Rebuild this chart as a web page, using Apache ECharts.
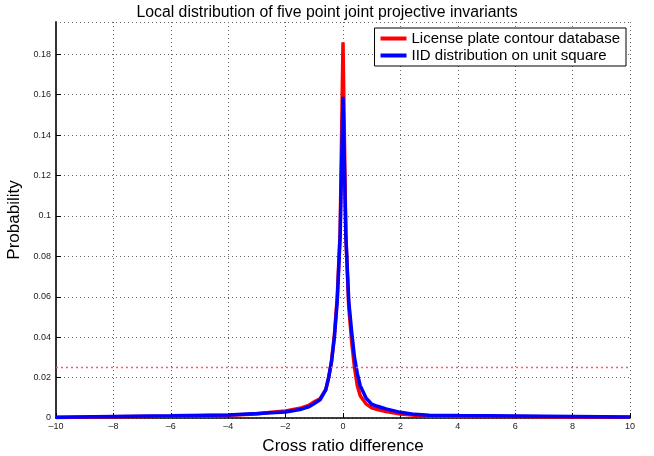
<!DOCTYPE html>
<html><head><meta charset="utf-8">
<script src="https://cdn.jsdelivr.net/npm/echarts@6/dist/echarts.min.js"></script>
<style>html,body{margin:0;padding:0;background:#fff}#c{width:654px;height:456px}</style>
</head><body><div id="c"></div>
<script>
const xTicks = [-10,-8,-6,-4,-2,0,2,4,6,8,10];
const yTicks = [0,0.02,0.04,0.06,0.08,0.1,0.12,0.14,0.16,0.18];
const xVals = [-10,-8,-6,-4,-3,-2.5,-2,-1.5,-1.2,-1.0,-0.8,-0.6,-0.5,-0.4,-0.3,-0.2,-0.1,0,0.1,0.2,0.3,0.4,0.5,0.6,0.8,1.0,1.2,1.5,2,2.5,3,4,6,8,10];
const licensePlate = [0.0003,0.0006,0.0009,0.0014,0.002,0.0028,0.0035,0.0048,0.0062,0.008,0.0095,0.014,0.02,0.028,0.041,0.06,0.092,0.186,0.09,0.055,0.038,0.025,0.016,0.011,0.007,0.005,0.0042,0.0032,0.002,0.0013,0.001,0.0008,0.0007,0.0005,0.0004];
const iidSquare = [0.0004,0.0008,0.0011,0.0015,0.0022,0.0026,0.003,0.0042,0.0055,0.0072,0.009,0.014,0.02,0.028,0.04,0.058,0.09,0.159,0.09,0.058,0.043,0.03,0.022,0.016,0.01,0.0068,0.0058,0.0045,0.0028,0.0018,0.0014,0.0012,0.001,0.0008,0.0005];
const thresholdX = [-10, 10];
const thresholdY = [0.025, 0.025];
const seriesNames = ['License plate contour database','IID distribution on unit square'];

const F = 'Liberation Sans, Arial, Helvetica, sans-serif';
const chart = echarts.init(document.getElementById('c'), null, {renderer:'canvas'});
const pair = (xs, ys) => xs.map((x,i)=>[x, ys[i]]);
chart.setOption({
  animation:false,
  title:{text:'Local distribution of five point joint projective invariants', left:'center', top:0,
    textStyle:{fontFamily:F, fontSize:15.8, fontWeight:'normal', color:'#000'}},
  grid:{left:56, right:24, top:22, bottom:38, outerBoundsMode:'none', containLabel:false},
  legend:{right:28, top:28, orient:'vertical', backgroundColor:'#fff', borderColor:'#000', borderWidth:1,
    padding:[3,6,3,6], itemGap:2, itemWidth:26, itemHeight:4, icon:'rect',
    textStyle:{fontFamily:F, fontSize:15, color:'#000', padding:[0,0,0,0]}, data:seriesNames},
  xAxis:{type:'value', min:-10, max:10, interval:2,
    name:'Cross ratio difference', nameLocation:'middle', nameGap:20,
    nameTextStyle:{fontFamily:F, fontSize:17, color:'#000'},
    axisLine:{onZero:false, lineStyle:{color:'#000', width:1.5}},
    axisTick:{inside:true, length:5, lineStyle:{color:'#000'}},
    axisLabel:{fontFamily:F, fontSize:9, color:'#222', margin:4, formatter:v=>xTicks.includes(v)?String(v).replace('-','\u2013'):''},
    splitLine:{show:true, lineStyle:{color:'#666', type:[1,3], width:1}}},
  yAxis:{type:'value', min:0, max:0.196, interval:0.02,
    name:'Probability', nameLocation:'middle', nameGap:28, nameRotate:90,
    nameTextStyle:{fontFamily:F, fontSize:17, color:'#000'},
    axisLine:{show:true, onZero:false, lineStyle:{color:'#333', width:2}},
    axisTick:{inside:true, length:5, lineStyle:{color:'#000'}},
    axisLabel:{fontFamily:F, fontSize:9, color:'#222', margin:5, showMaxLabel:false,
      formatter:v=>{const t=yTicks.find(a=>Math.abs(a-v)<1e-9); return t===undefined?'':String(+t.toFixed(2));}},
    splitLine:{show:true, lineStyle:{color:'#666', type:[1,3], width:1}}},
  series:[
    {name:'threshold', type:'line', data:pair(thresholdX, thresholdY), showSymbol:false, symbol:'none', silent:true,
      color:'#ff5a5a', itemStyle:{color:'#ff5a5a'},
      lineStyle:{color:'#ff5a5a', type:[2,3], width:1.5, opacity:1}, z:4},
    {name:seriesNames[0], type:'line', data:pair(xVals, licensePlate), showSymbol:false, symbol:'none',
      lineStyle:{color:'#ff0000', width:3.5}, itemStyle:{color:'#ff0000'}, z:2},
    {name:seriesNames[1], type:'line', data:pair(xVals, iidSquare), showSymbol:false, symbol:'none',
      lineStyle:{color:'#0000ff', width:3.5}, itemStyle:{color:'#0000ff'}, z:3}
  ]
});
</script></body></html>
